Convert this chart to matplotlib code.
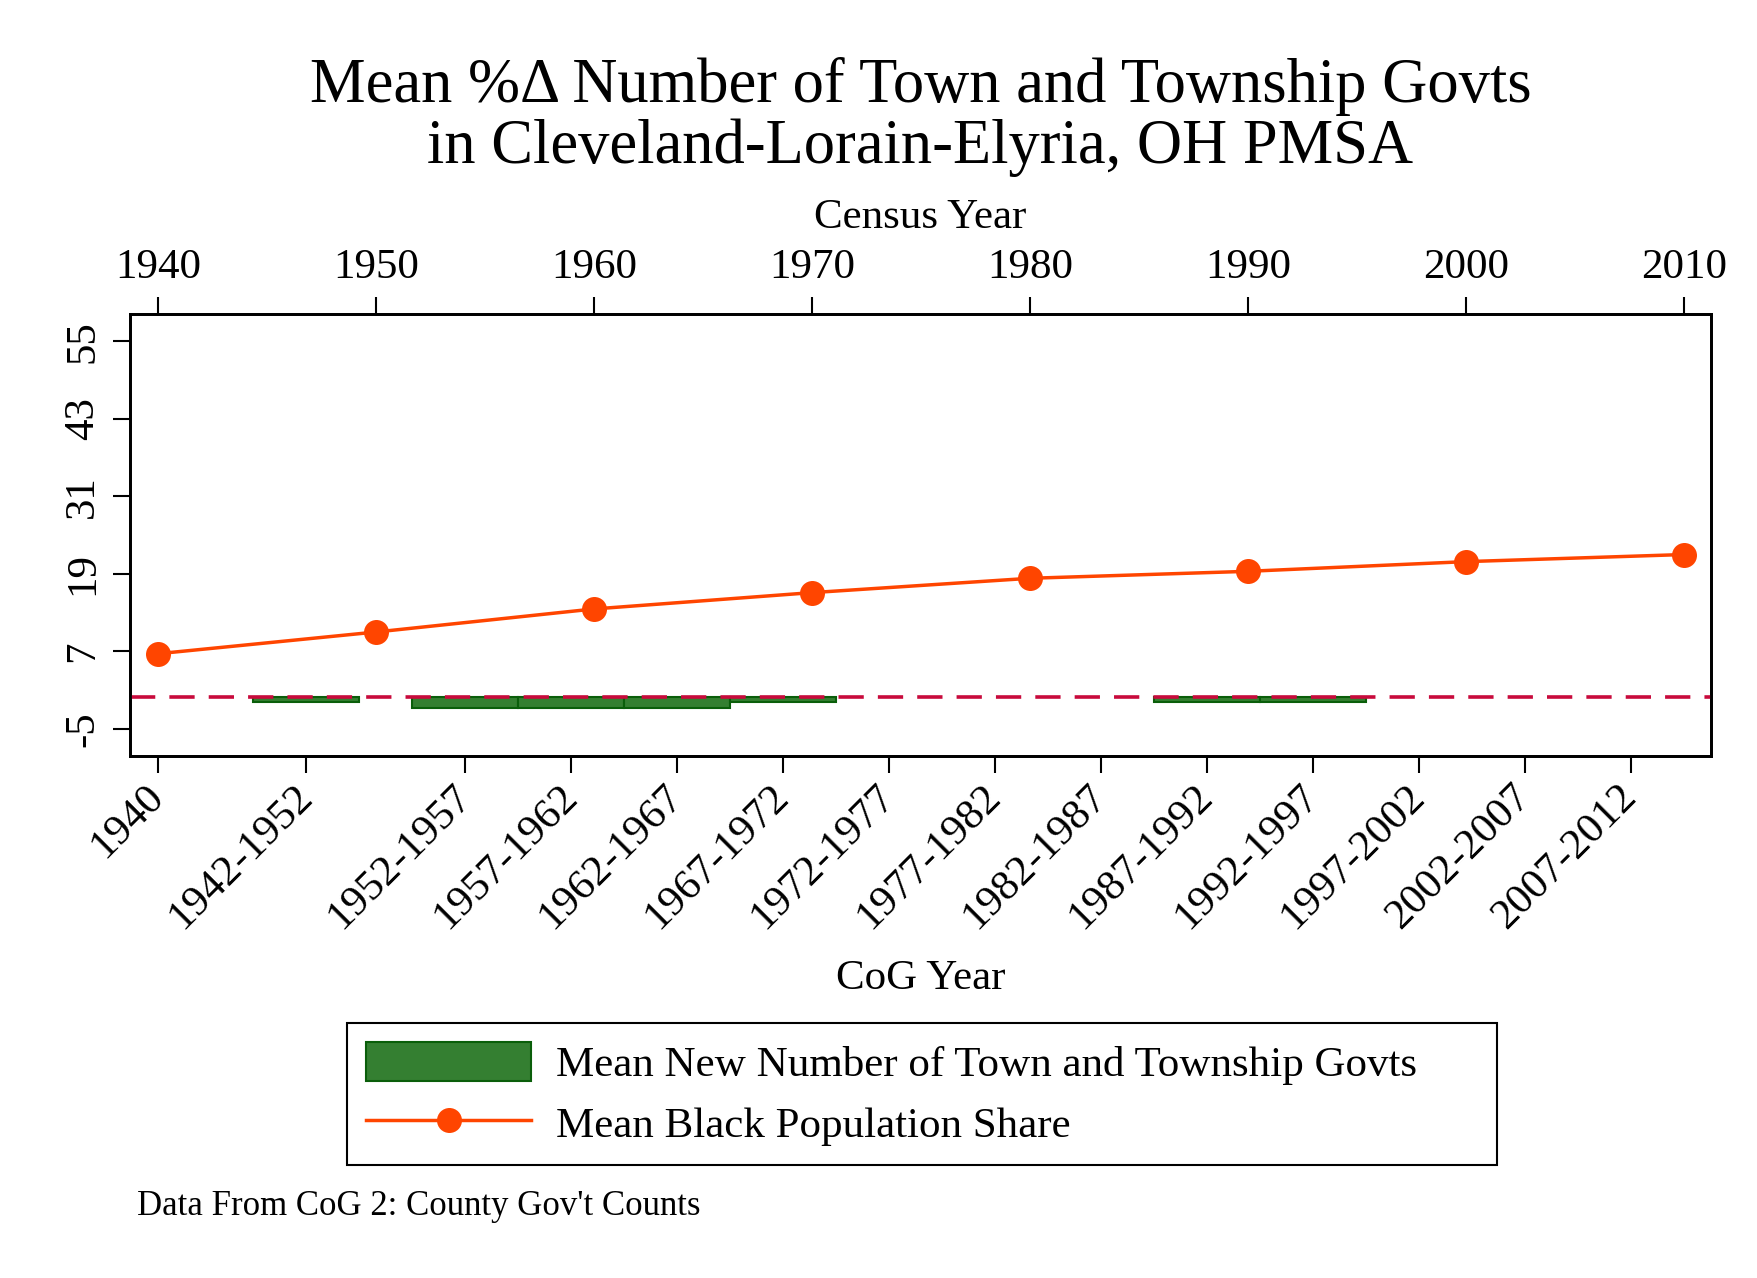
import matplotlib
matplotlib.use("Agg")
import matplotlib.pyplot as plt
from matplotlib.patches import Patch
from matplotlib.lines import Line2D

plt.rcParams["font.family"] = ["Liberation Serif", "DejaVu Serif"]

# Census (top axis): mean black population share
census_years = [1940, 1950, 1960, 1970, 1980, 1990, 2000, 2010]
black_share = [6.64, 10.0, 13.57, 16.1, 18.32, 19.4, 20.9, 22.0]

# CoG (bottom axis): mean %change in town and township governments
cog_labels = ["1940", "1942-1952", "1952-1957", "1957-1962", "1962-1967",
              "1967-1972", "1972-1977", "1977-1982", "1982-1987", "1987-1992",
              "1992-1997", "1997-2002", "2002-2007", "2007-2012"]
cog_pos = [1940, 1947, 1954.5, 1959.5, 1964.5, 1969.5, 1974.5, 1979.5,
           1984.5, 1989.5, 1994.5, 1999.5, 2004.5, 2009.5]
new_govts = [0, -0.8, -1.7, -1.7, -1.7, -0.8, 0, 0, 0, -0.8, -0.8, 0, 0, 0]

y_ticks = [-5, 7, 19, 31, 43, 55]

W, H = 1758, 1278
fig = plt.figure(figsize=(W / 100, H / 100), dpi=100)
L, R, T, B = 130, 1711, 314, 756
ax = fig.add_axes([L / W, 1 - B / H, (R - L) / W, (B - T) / H])

FS = 31
TICK = dict(length=12.2, width=1.5, labelsize=FS)

# bars only where there is a change
bx = [p for p, v in zip(cog_pos, new_govts) if v != 0]
bv = [v for v in new_govts if v != 0]
bars = ax.bar(bx, bv, width=5, color="#347F31", edgecolor="#0A5E0A",
              linewidth=1.5, zorder=2)
ax.axhline(0, color="#C80A3C", lw=2.6, linestyle=(0, (7.0, 3.9)), zorder=3)

ax.set_xlim(1938.68, 2013.29)
ax.set_ylim(-9.2, 59.25)
ax.set_xticks(cog_pos)
ax.set_xticklabels(cog_labels, rotation=45, ha="right", va="center",
                   rotation_mode="anchor")
ax.set_yticks(y_ticks)
ax.set_yticklabels([str(t) for t in y_ticks], rotation=90, va="center")
ax.tick_params(axis="x", pad=13, **TICK)
ax.tick_params(axis="y", pad=8, **TICK)
ax.set_xlabel("CoG Year", fontsize=FS, labelpad=17)

ax2 = ax.twiny()
line, = ax2.plot(census_years, black_share, color="#FF4500", lw=2.5,
                 marker="o", ms=18, markeredgewidth=0, zorder=4)
ax2.set_xlim(1938.72, 2011.25)
ax2.set_xticks(census_years)
ax2.tick_params(axis="x", pad=7, **TICK)
ax2.set_xlabel("Census Year", fontsize=FS, labelpad=15)

for a in (ax, ax2):
    for s in a.spines.values():
        s.set_linewidth(2.0)

fig.text((L + R) / 2 / W, 1 - 101.7 / H,
         "Mean %\u0394 Number of Town and Township Govts",
         ha="center", va="baseline", fontsize=45)
fig.text((L + R) / 2 / W, 1 - 162.7 / H,
         "in Cleveland-Lorain-Elyria, OH PMSA",
         ha="center", va="baseline", fontsize=45)

h_bar = Patch(facecolor="#347F31", edgecolor="#0A5E0A", linewidth=1.5)
h_line = Line2D([], [], color="#FF4500", lw=2.5, marker="o", ms=18,
                markeredgewidth=0)
leg = fig.legend([h_bar, h_line],
                 ["Mean New Number of Town and Township Govts",
                  "Mean Black Population Share"],
                 loc="upper left", mode="expand",
                 bbox_to_anchor=(347.5 / W, 1 - 1023 / H, 1149.5 / W, 0),
                 fontsize=FS, frameon=True, fancybox=False, framealpha=1,
                 edgecolor="black", handlelength=3.84, handleheight=1.02,
                 labelspacing=0.42, borderpad=0.43, handletextpad=0.58,
                 numpoints=1, borderaxespad=0)
leg.get_frame().set_linewidth(1.5)

fig.text(137 / W, 1 - 1215 / H, "Data From CoG 2: County Gov't Counts",
         ha="left", va="baseline", fontsize=25)

fig.savefig("out.png", dpi=100)
